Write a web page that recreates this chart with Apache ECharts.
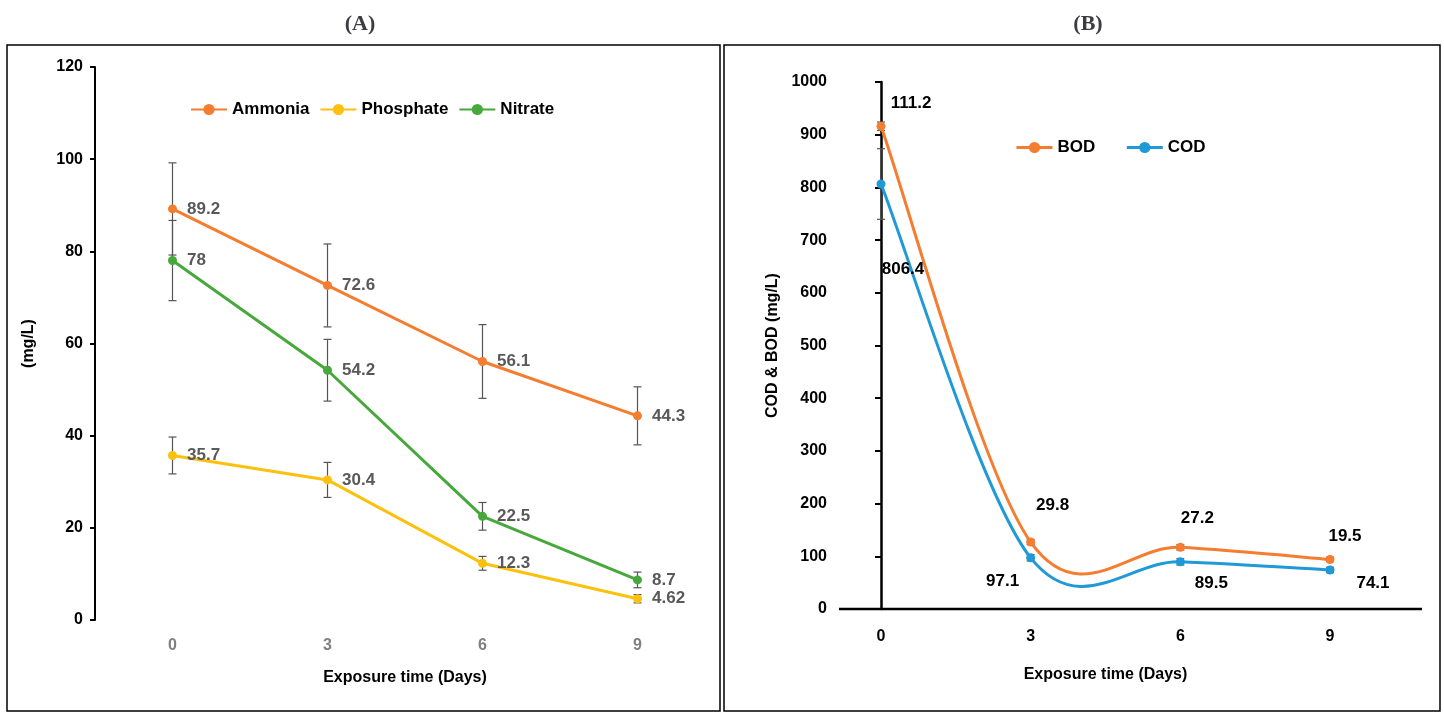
<!DOCTYPE html>
<html>
<head>
<meta charset="utf-8">
<script src="https://cdn.jsdelivr.net/npm/echarts@6/dist/echarts.min.js"></script>
<style>html,body{margin:0;padding:0;background:#fff}#main{width:1444px;height:721px}</style>
</head>
<body>
<div id="main"></div>
<script>
// ---- data ----
var days = ['0', '3', '6', '9'];
var dayVals = [0, 3, 6, 9];
var ammonia = [89.2, 72.6, 56.1, 44.3];
var ammoniaErr = [10, 9, 8, 6.3];
var phosphate = [35.7, 30.4, 12.3, 4.62];
var phosphateErr = [4, 3.8, 1.5, 0.9];
var nitrate = [78, 54.2, 22.5, 8.7];
var nitrateErr = [8.7, 6.7, 3, 1.7];
var bod = [916, 127, 117, 94];
var bodErr = [8, 5, 5, 4];
var bodLabels = ['111.2', '29.8', '27.2', '19.5'];
var cod = [806.4, 97.1, 89.5, 74.1];
var codErr = [67, 6, 6, 5];
var codLabels = ['806.4', '97.1', '89.5', '74.1'];

var chart = echarts.init(document.getElementById('main'));
var font = 'Liberation Sans, Arial, sans-serif';

// 误差线 (custom series)
function errBars(xs, vals, errs, xi, yi) {
    return {
        type: 'custom', xAxisIndex: xi, yAxisIndex: yi, z: 1, silent: true,
        data: vals.map(function (v, i) { return [xs[i], v - errs[i], v + errs[i]]; }),
        renderItem: function (params, api) {
            var lo = api.coord([api.value(0), api.value(1)]);
            var hi = api.coord([api.value(0), api.value(2)]);
            var st = {stroke: '#555', lineWidth: 1.2};
            return {type: 'group', children: [
                {type: 'line', shape: {x1: lo[0], y1: lo[1], x2: hi[0], y2: hi[1]}, style: st},
                {type: 'line', shape: {x1: lo[0] - 4, y1: lo[1], x2: lo[0] + 4, y2: lo[1]}, style: st},
                {type: 'line', shape: {x1: hi[0] - 4, y1: hi[1], x2: hi[0] + 4, y2: hi[1]}, style: st}
            ]};
        }
    };
}

// Excel 风格的平滑曲线 (Catmull-Rom)
function smoothCurve(vals, color) {
    return {
        type: 'custom', xAxisIndex: 1, yAxisIndex: 1, z: 2, silent: true,
        data: vals.slice(0, vals.length - 1).map(function (v, i) { return [dayVals[i], v]; }),
        renderItem: function (params, api) {
            var i = params.dataIndex, n = vals.length;
            var p = function (k) {
                k = Math.max(0, Math.min(n - 1, k));
                return api.coord([dayVals[k], vals[k]]);
            };
            var p0 = p(i - 1), p1 = p(i), p2 = p(i + 1), p3 = p(i + 2);
            var c1 = [p1[0] + (p2[0] - p0[0]) / 6, p1[1] + (p2[1] - p0[1]) / 6];
            var c2 = [p2[0] - (p3[0] - p1[0]) / 6, p2[1] - (p3[1] - p1[1]) / 6];
            return {type: 'bezierCurve',
                shape: {x1: p1[0], y1: p1[1], x2: p2[0], y2: p2[1], cpx1: c1[0], cpy1: c1[1], cpx2: c2[0], cpy2: c2[1]},
                style: {stroke: color, lineWidth: 3, fill: 'none'}};
        }
    };
}

function lineA(name, vals, color) {
    return {
        name: name, type: 'line', xAxisIndex: 0, yAxisIndex: 0, data: vals, z: 3,
        symbol: 'circle', symbolSize: 9,
        lineStyle: {color: color, width: 3}, itemStyle: {color: color},
        label: {show: true, position: 'right', distance: 10, color: '#595959',
            fontFamily: font, fontWeight: 'bold', fontSize: 17}
    };
}

function pointsB(name, vals, labels, offsets, color) {
    return {
        name: name, type: 'line', xAxisIndex: 1, yAxisIndex: 1, z: 3,
        data: vals.map(function (v, i) {
            return {value: [dayVals[i], v], label: {offset: offsets[i]}};
        }),
        symbol: 'circle', symbolSize: 9,
        lineStyle: {width: 0, color: color}, itemStyle: {color: color},
        label: {show: true, position: 'inside', color: '#000', fontFamily: font,
            fontWeight: 'bold', fontSize: 17,
            formatter: function (p) { return labels[p.dataIndex]; }}
    };
}

var axisTxt = {color: '#000', fontFamily: font, fontWeight: 'bold', fontSize: 16};
var legTxt = {fontFamily: font, fontWeight: 'bold', fontSize: 17, color: '#000'};

var option = {
    animation: false,
    title: [
        {text: '(A)', left: 355, top: 8, textAlign: 'center',
            textStyle: {fontFamily: 'Liberation Serif, serif', fontSize: 22, fontWeight: 'bold'}},
        {text: '(B)', left: 1083, top: 8, textAlign: 'center',
            textStyle: {fontFamily: 'Liberation Serif, serif', fontSize: 22, fontWeight: 'bold'}}
    ],
    graphic: [
        {type: 'rect', shape: {x: 7, y: 45, width: 713, height: 666}, style: {fill: 'none', stroke: '#000', lineWidth: 1.5}},
        {type: 'rect', shape: {x: 724, y: 45, width: 716, height: 666}, style: {fill: 'none', stroke: '#000', lineWidth: 1.5}},
        {type: 'line', shape: {x1: 839, y1: 609, x2: 1422, y2: 609}, style: {stroke: '#000', lineWidth: 2.5}}
    ],
    legend: [
        {data: ['Ammonia', 'Phosphate', 'Nitrate'], left: 185, top: 96, itemGap: 10, itemWidth: 36,
            textStyle: legTxt},
        {data: [
            {name: 'BOD', lineStyle: {width: 3, color: '#f47d30'}},
            {name: 'COD', lineStyle: {width: 3, color: '#1f9ad6'}}
        ], left: 1010, top: 134, itemGap: 30, itemWidth: 36, textStyle: legTxt}
    ],
    grid: [
        {left: 95, right: 729, top: 67, bottom: 101},
        {left: 881, right: 114, top: 82, bottom: 112}
    ],
    xAxis: [
        {type: 'category', gridIndex: 0, data: days, boundaryGap: true,
            axisLine: {show: false}, axisTick: {show: false},
            axisLabel: {color: '#7f7f7f', fontFamily: font, fontWeight: 'bold', fontSize: 16, margin: 18},
            name: 'Exposure time (Days)', nameLocation: 'middle', nameGap: 50, nameTextStyle: axisTxt},
        {type: 'value', gridIndex: 1, min: 0, max: 9, interval: 3, splitLine: {show: false},
            axisLine: {show: false}, axisTick: {show: false},
            axisLabel: {color: '#000', fontFamily: font, fontWeight: 'bold', fontSize: 16, margin: 20},
            name: 'Exposure time (Days)', nameLocation: 'middle', nameGap: 58, nameTextStyle: axisTxt}
    ],
    yAxis: [
        {type: 'value', gridIndex: 0, min: 0, max: 120, interval: 20, splitLine: {show: false},
            axisLine: {show: true, lineStyle: {color: '#000', width: 2}},
            axisTick: {show: true, length: 5, lineStyle: {width: 2}},
            axisLabel: {color: '#000', fontFamily: font, fontWeight: 'bold', fontSize: 16, margin: 12},
            name: '(mg/L)', nameLocation: 'middle', nameGap: 58, nameTextStyle: axisTxt},
        {type: 'value', gridIndex: 1, min: 0, max: 1000, interval: 100, splitLine: {show: false},
            offset: 42,
            axisLine: {show: true, lineStyle: {color: '#000', width: 2.5}},
            axisTick: {show: true, length: 6, lineStyle: {width: 2}},
            axisLabel: {color: '#000', fontFamily: font, fontWeight: 'bold', fontSize: 16, margin: 12,
                formatter: function (v) { return String(v); }},
            name: 'COD & BOD (mg/L)', nameLocation: 'middle', nameGap: 58, nameTextStyle: axisTxt}
    ],
    series: [
        errBars([0, 1, 2, 3], ammonia, ammoniaErr, 0, 0),
        errBars([0, 1, 2, 3], phosphate, phosphateErr, 0, 0),
        errBars([0, 1, 2, 3], nitrate, nitrateErr, 0, 0),
        lineA('Ammonia', ammonia, '#f47d30'),
        lineA('Phosphate', phosphate, '#fcc10f'),
        lineA('Nitrate', nitrate, '#47a83b'),
        errBars(dayVals, bod, bodErr, 1, 1),
        errBars(dayVals, cod, codErr, 1, 1),
        smoothCurve(bod, '#f47d30'),
        smoothCurve(cod, '#1f9ad6'),
        pointsB('BOD', bod, bodLabels, [[30, -23], [22, -37], [17, -29], [15, -23]], '#f47d30'),
        pointsB('COD', cod, codLabels, [[22, 85], [-28, 23], [31, 21], [43, 13]], '#1f9ad6')
    ]
};
chart.setOption(option);
</script>
</body>
</html>
